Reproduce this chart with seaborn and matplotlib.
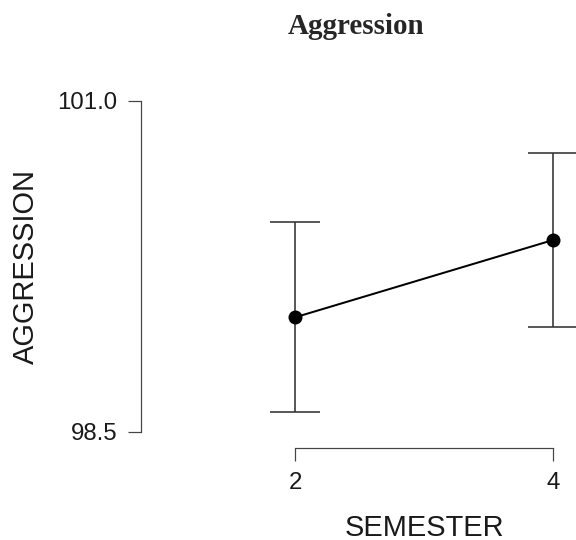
import numpy as np
import pandas as pd
import seaborn as sns
import matplotlib
matplotlib.use("Agg")
import matplotlib.pyplot as plt

# data
semester = [2, 4]
aggression_mean = [99.365, 99.949]
ci_half = [0.717, 0.658]
y_ticks = [98.5, 101.0]

df = pd.DataFrame({"SEMESTER": semester, "AGGRESSION": aggression_mean})

sns.set_theme(style="ticks")
plt.rcParams["font.family"] = ["Liberation Sans", "DejaVu Sans"]

fig = plt.figure(figsize=(8, 7.5), dpi=72)
ax = fig.add_axes([141 / 576, 92 / 540, 435 / 576, 347.3 / 540])

# error bars first so points sit on top
ax.errorbar(semester, aggression_mean, yerr=ci_half, fmt="none",
            ecolor="#333333", elinewidth=1.6, capsize=25, capthick=1.6, zorder=2)
sns.lineplot(data=df, x="SEMESTER", y="AGGRESSION", ax=ax, color="black",
             linewidth=2, marker="o", markersize=14, markeredgewidth=0, zorder=3)

ax.set_xlim(0.8076, 4.1758)
ax.set_ylim(98.379, 101.0)
ax.set_xticks(semester)
ax.set_xticklabels([str(s) for s in semester])
ax.set_yticks(y_ticks)
ax.set_yticklabels([f"{v:.1f}" for v in y_ticks])

sns.despine(ax=ax)
ax.spines["left"].set_bounds(98.5, 101.0)
ax.spines["bottom"].set_bounds(2, 4)
for side in ["left", "bottom"]:
    ax.spines[side].set_color("#444444")
    ax.spines[side].set_linewidth(1.2)
ax.tick_params(axis="both", length=13, width=1.2, color="#444444",
               labelsize=24, labelcolor="#1a1a1a", pad=11)

ax.set_xlabel("SEMESTER", fontsize=29, color="#1a1a1a")
ax.set_ylabel("AGGRESSION", fontsize=29, color="#1a1a1a")
ax.xaxis.set_label_coords(0.6506, -0.19)
ax.yaxis.set_label_coords(-0.232, 0.524)

fig.text(356.5 / 576, 1 - 34 / 540, "Aggression", ha="center", va="baseline",
         fontsize=29, fontweight="bold", family=["Liberation Serif", "DejaVu Serif"])

fig.savefig("out.png", dpi=72)
